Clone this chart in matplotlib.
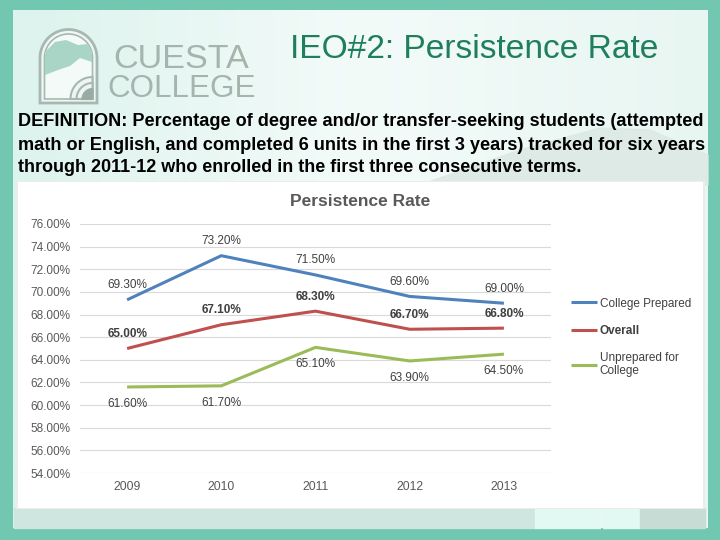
import numpy as np
import matplotlib
matplotlib.use("Agg")
import matplotlib.pyplot as plt
from matplotlib.patches import Rectangle, Polygon
from matplotlib.colors import LinearSegmentedColormap

years = ["2009", "2010", "2011", "2012", "2013"]
college_prepared = [69.3, 73.2, 71.5, 69.6, 69.0]
overall = [65.0, 67.1, 68.3, 66.7, 66.8]
unprepared = [61.6, 61.7, 65.1, 63.9, 64.5]
y_ticks = [54, 56, 58, 60, 62, 64, 66, 68, 70, 72, 74, 76]
series_names = ["College Prepared", "Overall", "Unprepared for\nCollege"]

TEAL = "#72c7b1"
BLUE = "#4f81bd"
RED = "#c0504d"
GREEN = "#9bbb59"
GRAY_TXT = "#595959"
FONT = ["Liberation Sans", "DejaVu Sans"]

plt.rcParams['font.family'] = FONT

fig = plt.figure(figsize=(7.2, 5.4), dpi=100)
bg = fig.add_axes([0, 0, 1, 1], zorder=-5)
bg.set_xlim(0, 720)
bg.set_ylim(540, 0)
bg.axis('off')

# outer teal frame
bg.add_patch(Rectangle((0, 0), 720, 540, color=TEAL, zorder=0))
# inner pale mint gradient
grad = np.linspace(0, 1, 256)[None, :]
cmap = LinearSegmentedColormap.from_list("m", ["#ddf3ed", "#f3fbf9", "#e8f6f2"])
bg.imshow(grad, extent=(13, 708, 528, 10), cmap=cmap, aspect='auto', zorder=1)
# faint mountain silhouette
bg.add_patch(Polygon([(420, 185), (520, 150), (600, 128), (650, 130), (708, 155), (708, 185)],
                     closed=True, color="#dde9e5", alpha=0.9, zorder=1.5))
# bottom strip
bg.add_patch(Rectangle((14, 508), 521, 20, color="#cfe5df", zorder=2))
bg.add_patch(Rectangle((535, 508), 65, 20, color="#e2f8f3", zorder=2))
bg.add_patch(Rectangle((603, 508), 37, 20, color="#e2f8f3", zorder=2))
bg.add_patch(Rectangle((640, 508), 65, 20, color="#c8dcd6", zorder=2))
# chart white box
bg.add_patch(Rectangle((16, 181), 689, 328, facecolor="#e8eeec", edgecolor="none", zorder=2.5))
bg.add_patch(Rectangle((18, 182), 685, 326, facecolor="white", edgecolor="none", zorder=3))

# logo arch
cx, cy, r = 68.5, 58, 28.5
th = np.linspace(np.pi, 0, 60)
outer = [(40, 103)] + [(cx + r * np.cos(t), cy - r * np.sin(t)) for t in th] + [(97, 103)]
bg.add_patch(Polygon(outer, closed=True, facecolor="#eef7f4", edgecolor="#a7b8b1", lw=2, zorder=4))
r2 = 24
inner = [(44.5, 99)] + [(cx + r2 * np.cos(t), cy - r2 * np.sin(t)) for t in th] + [(92.5, 99)]
bg.add_patch(Polygon(inner, closed=True, facecolor="#f4faf8", edgecolor="#a7b8b1", lw=1.2, zorder=4.1))
bg.add_patch(Polygon([(45, 52), (55, 42), (66, 40), (78, 45), (88, 44), (92, 52), (92, 62),
                      (80, 58), (70, 66), (58, 70), (45, 75)],
                     closed=True, facecolor="#a9d5c7", edgecolor="none", zorder=4.2))
for rr, col in [(22, "#a7b8b1"), (16, "#a7b8b1"), (10, "#9aaaa4")]:
    th2 = np.linspace(np.pi, np.pi / 2, 30)
    pts = [(92.5 + rr * np.cos(t), 99 - rr * np.sin(t)) for t in th2]
    pts = [(92.5 - rr, 99)] + pts + [(92.5, 99)]
    bg.add_patch(Polygon(pts, closed=True, facecolor="#eef5f2" if rr > 10 else col,
                         edgecolor=col, lw=1.5, zorder=4.3))

renderer = fig.canvas.get_renderer()


def fit_text(x, y, s, target_w, **kw):
    t = bg.text(x, y, s, **kw)
    w = t.get_window_extent(renderer).width
    t.set_fontsize(t.get_fontsize() * target_w / w)
    return t


fit_text(113, 59, "CUESTA", 136, fontsize=30, color="#a5b5ae",
         va="center", ha="left", zorder=5)
fit_text(107, 89, "COLLEGE", 148, fontsize=30, color="#a5b5ae",
         va="center", ha="left", zorder=5)

# slide title
fit_text(290, 49, "IEO#2: Persistence Rate", 368, fontsize=24, color="#1f7f5c",
         va="center", ha="left", zorder=5)

lines = ["DEFINITION: Percentage of degree and/or transfer-seeking students (attempted",
         "math or English, and completed 6 units in the first 3 years) tracked for six years",
         "through 2011-12 who enrolled in the first three consecutive terms."]
fit_text(18, 122, lines[0], 680, fontsize=12, fontweight="bold", color="black", va="center", zorder=5)
fit_text(18, 145, lines[1], 682, fontsize=12, fontweight="bold", color="black", va="center", zorder=5)
fit_text(18, 167, lines[2], 562, fontsize=12, fontweight="bold", color="black", va="center", zorder=5)

# chart title
bg.text(360, 202, "Persistence Rate", fontsize=12.5, fontweight="bold", color=GRAY_TXT,
        ha="center", va="center", zorder=5)

# chart axes
ax = fig.add_axes([80 / 720, 1 - 473 / 540, (551 - 80) / 720, (473 - 224) / 540], zorder=2)
ax.patch.set_alpha(0)
x = np.arange(len(years))
ax.set_xlim(-0.5, 4.5)
ax.set_ylim(54, 76)
ax.set_yticks(y_ticks)
ax.set_yticklabels([f"{v:.2f}%" for v in y_ticks], fontsize=8.5, color=GRAY_TXT)
ax.set_xticks(x)
ax.set_xticklabels(years, fontsize=8.8, color=GRAY_TXT)
ax.tick_params(length=0, pad=6)
ax.tick_params(axis='y', pad=7)
for s in ax.spines.values():
    s.set_visible(False)
ax.grid(axis='y', color="#d9d9d9", lw=0.8)
ax.set_axisbelow(True)

series = [(college_prepared, BLUE, 10.5, "normal"),
          (overall, RED, 10.5, "bold"),
          (unprepared, GREEN, -12, "normal")]
handles = []
for (vals, col, off, wt), name in zip(series, series_names):
    h, = ax.plot(x, vals, color=col, lw=2.2, solid_capstyle='butt', label=name)
    handles.append(h)
    for xi, v in zip(x, vals):
        ax.annotate(f"{v:.2f}%", (xi, v), xytext=(0, off), textcoords="offset points",
                    ha="center", va="center", fontsize=8.5, color="#404040", fontweight=wt)

leg = fig.legend(handles=handles, loc="upper left", bbox_to_anchor=(560 / 720, 1 - 287 / 540),
                 frameon=False, fontsize=8.5, handlelength=2.2, handletextpad=0.25,
                 labelspacing=1.3, labelcolor="#404040")
leg.get_texts()[1].set_fontweight("bold")
leg.get_texts()[2].set_linespacing(1.1)

fig.savefig("out.png", dpi=100)
